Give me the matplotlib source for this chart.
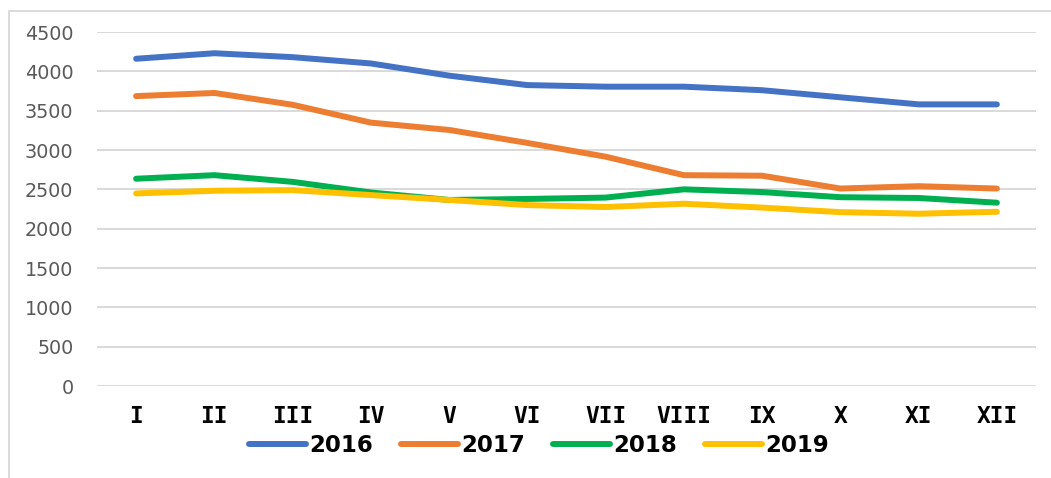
import matplotlib
matplotlib.use("Agg")
import matplotlib.pyplot as plt
from matplotlib.patches import Rectangle

months = ["I", "II", "III", "IV", "V", "VI", "VII", "VIII", "IX", "X", "XI", "XII"]
s2016 = [4160, 4230, 4180, 4100, 3945, 3825, 3805, 3805, 3760, 3670, 3580, 3580]
s2017 = [3685, 3725, 3575, 3348, 3255, 3090, 2915, 2680, 2673, 2510, 2540, 2510]
s2018 = [2635, 2680, 2595, 2460, 2365, 2378, 2395, 2500, 2465, 2400, 2390, 2330]
s2019 = [2448, 2482, 2490, 2427, 2365, 2300, 2275, 2317, 2268, 2210, 2190, 2215]
series = [("2016", s2016, "#4472C4"), ("2017", s2017, "#ED7D31"),
          ("2018", s2018, "#00B050"), ("2019", s2019, "#FFC000")]
yticks = [0, 500, 1000, 1500, 2000, 2500, 3000, 3500, 4000, 4500]

W, H = 1051, 478
fig = plt.figure(figsize=(W / 100, H / 100), dpi=100)
fig.patch.set_facecolor("white")

# outer chart border (left & top visible)
fig.patches.append(Rectangle((9 / W, -0.05), 1.1, 1 - 11 / H + 0.05,
                             transform=fig.transFigure, fill=False,
                             edgecolor="#D9D9D9", linewidth=1.3))

ax = fig.add_axes([97 / W, 1 - 386 / H, (1036 - 97) / W, (386 - 32) / H])
x = list(range(len(months)))
for name, vals, col in series:
    ax.plot(x, vals, color=col, lw=4.3, solid_capstyle="round",
            solid_joinstyle="round", label=name)

ax.set_xlim(-0.5, len(months) - 0.5)
ax.set_ylim(0, 4500)
ax.set_yticks(yticks)
ax.set_yticklabels([str(v) for v in yticks])
ax.set_xticks(x)
ax.set_xticklabels(months)
ax.grid(axis="y", color="#D9D9D9", lw=1.4)
ax.set_axisbelow(True)
for sp in ax.spines.values():
    sp.set_visible(False)
ax.tick_params(axis="y", length=0, pad=17, labelsize=13.8, labelcolor="#595959")
ax.tick_params(axis="x", length=0, pad=14, labelsize=16.5, labelcolor="black")
for lab in ax.get_xticklabels():
    lab.set_fontfamily("DejaVu Sans Mono")
    lab.set_fontweight("bold")

leg = fig.legend(loc="center", bbox_to_anchor=(539 / W, 1 - 446 / H), ncol=4,
                 frameon=False, handlelength=2.5, handletextpad=0.15,
                 columnspacing=1.2, prop={"weight": "bold", "size": 16.5})
for h in leg.get_lines():
    h.set_solid_capstyle("round")
    h.set_linewidth(4.3)

fig.savefig("out.png", dpi=100)
